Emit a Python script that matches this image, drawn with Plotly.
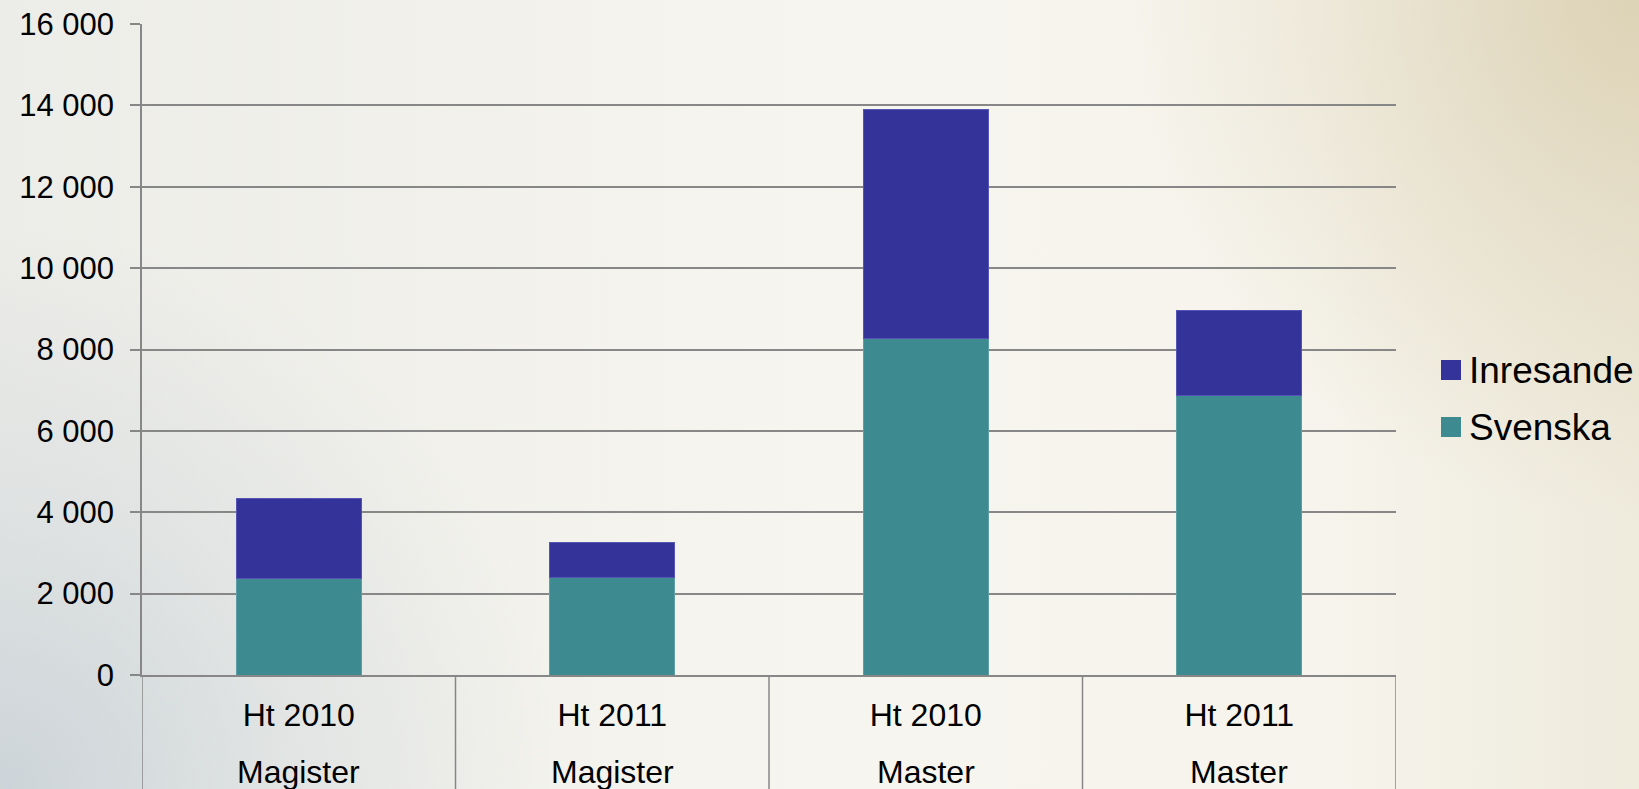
import base64
import plotly.graph_objects as go

# ---- data ----
terms = ["Ht 2010", "Ht 2011", "Ht 2010", "Ht 2011"]
programmes = ["Magister", "Magister", "Master", "Master"]
svenska = [2360, 2390, 8260, 6860]
inresande = [1980, 855, 5650, 2100]
series_names = ["Svenska", "Inresande"]
series_colors = ["#3d8b91", "#343399"]
y_ticks = [0, 2000, 4000, 6000, 8000, 10000, 12000, 14000, 16000]

W, H = 1639, 789
L, R, T, B = 142, 243, 24, 114
pw, ph = W - L - R, H - T - B

FONT = "Liberation Sans, Arial, sans-serif"
GRID = "#878787"

x_pos = list(range(len(terms)))

fig = go.Figure()
fig.add_trace(go.Bar(x=x_pos, y=svenska, name=series_names[0],
                     marker=dict(color=series_colors[0], line=dict(color="#5c9fa5", width=1)),
                     width=0.4, showlegend=False))
fig.add_trace(go.Bar(x=x_pos, y=inresande, name=series_names[1],
                     marker=dict(color=series_colors[1], line=dict(color="#5555b5", width=1)),
                     width=0.4, showlegend=False))

# background gradient (SVG data uri), slightly larger than the page
PADI = 12
IW, IH = W + 2 * PADI, H + 2 * PADI
svg = f'''<svg xmlns="http://www.w3.org/2000/svg" width="{IW}" height="{IH}" viewBox="0 0 {IW} {IH}" preserveAspectRatio="none">
<defs>
<linearGradient id="h" x1="0" y1="0" x2="1" y2="0">
<stop offset="0" stop-color="#ecece8"/>
<stop offset="0.5" stop-color="#f6f5ef"/>
<stop offset="0.8" stop-color="#f6f4ec"/>
<stop offset="1" stop-color="#eeeadc"/>
</linearGradient>
<radialGradient id="bl" gradientUnits="userSpaceOnUse" cx="{PADI}" cy="{IH - PADI}" r="560">
<stop offset="0" stop-color="#cbd3d8" stop-opacity="0.95"/>
<stop offset="0.5" stop-color="#cbd3d8" stop-opacity="0.4"/>
<stop offset="1" stop-color="#cbd3d8" stop-opacity="0"/>
</radialGradient>
<radialGradient id="tr" gradientUnits="userSpaceOnUse" cx="{IW - PADI}" cy="{PADI}" r="520">
<stop offset="0" stop-color="#dbd0b2" stop-opacity="0.9"/>
<stop offset="0.45" stop-color="#dbd0b2" stop-opacity="0.45"/>
<stop offset="1" stop-color="#dbd0b2" stop-opacity="0"/>
</radialGradient>
</defs>
<rect width="{IW}" height="{IH}" fill="url(#h)"/>
<rect width="{IW}" height="{IH}" fill="url(#bl)"/>
<rect width="{IW}" height="{IH}" fill="url(#tr)"/>
</svg>'''
src = "data:image/svg+xml;base64," + base64.b64encode(svg.encode()).decode()
fig.add_layout_image(dict(source=src, xref="paper", yref="paper",
                          x=-(L + PADI) / pw, y=1 + (T + PADI) / ph, sizex=IW / pw, sizey=IH / ph,
                          xanchor="left", yanchor="top", sizing="stretch", layer="below"))

# category separators below the axis
shapes = []
for i in range(len(terms) + 1):
    shapes.append(dict(type="line", xref="x", yref="paper", x0=i - 0.5, x1=i - 0.5,
                       y0=0, y1=-(B + 5) / ph, line=dict(color=GRID, width=1.5)))

annotations = []
for i, p in enumerate(programmes):
    annotations.append(dict(x=i, y=-(772 - (T + ph)) / ph, xref="x", yref="paper",
                            text=p, showarrow=False, font=dict(family=FONT, size=32, color="black"),
                            xanchor="center", yanchor="middle"))

# manual legend (Inresande on top)
leg_items = [(series_names[1], series_colors[1], 370), (series_names[0], series_colors[0], 427)]
for name, col, yc in leg_items:
    shapes.append(dict(type="rect", xref="paper", yref="paper",
                       x0=(1441 - L) / pw, x1=(1461 - L) / pw,
                       y0=(T + ph - (yc + 10)) / ph, y1=(T + ph - (yc - 10)) / ph,
                       fillcolor=col, line=dict(width=0)))
    annotations.append(dict(x=(1467 - L) / pw, y=(T + ph - yc) / ph, xref="paper", yref="paper",
                            text=name, showarrow=False, xanchor="left", yanchor="middle",
                            font=dict(family=FONT, size=37, color="black")))

fig.update_layout(
    width=W, height=H,
    margin=dict(l=L, r=R, t=T, b=B, pad=0, autoexpand=False),
    barmode="stack",
    paper_bgcolor="#f3f2ec",
    plot_bgcolor="rgba(0,0,0,0)",
    separators=", ",
    font=dict(family=FONT, size=30, color="black"),
    shapes=shapes,
    annotations=annotations,
    showlegend=False,
    xaxis=dict(range=[-0.5, len(terms) - 0.5], tickmode="array", tickvals=x_pos, ticktext=terms,
               showgrid=False, zeroline=False, showline=True, linecolor=GRID, linewidth=1.5,
               ticks="", tickfont=dict(family=FONT, size=32, color="black"), ticklabelstandoff=11,
               automargin=False, fixedrange=True),
    yaxis=dict(range=[0, 16000], tickmode="array", tickvals=y_ticks, tickformat=",d",
               showgrid=True, gridcolor=GRID, gridwidth=1.5, zeroline=False,
               showline=True, linecolor=GRID, linewidth=1.5,
               ticks="outside", ticklen=10, tickcolor=GRID, tickwidth=1.5,
               tickfont=dict(family=FONT, size=31, color="black"), ticklabelstandoff=10,
               automargin=False, fixedrange=True),
)

fig.write_html("out.html", config={"displayModeBar": False},
               post_script="document.body.style.margin='0';document.body.style.overflow='hidden';")
